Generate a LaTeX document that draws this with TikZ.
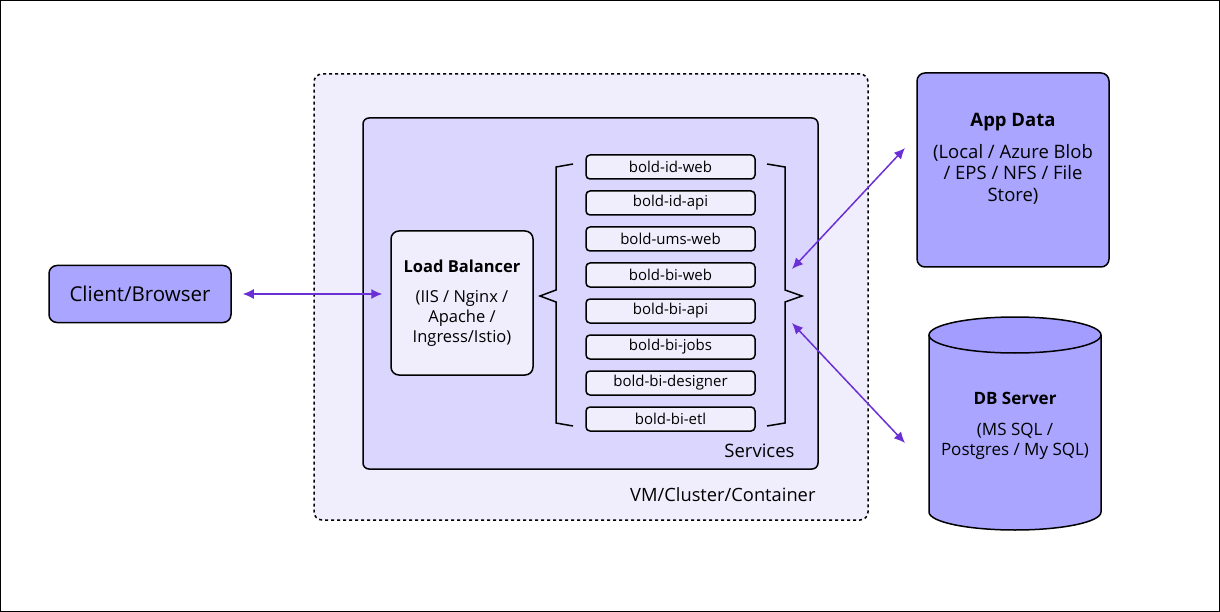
\documentclass[tikz,border=0pt]{standalone}
\usepackage{fontspec}
\setmainfont{Open Sans}
\usetikzlibrary{positioning,arrows.meta}

\definecolor{boxfill}{HTML}{AAA5FF}
\definecolor{vmfill}{HTML}{F0EEFC}
\definecolor{svcfill}{HTML}{DAD6FD}
\definecolor{dbtop}{HTML}{A39DFF}
\definecolor{linkcol}{HTML}{6B2FD6}

\tikzset{
	bigbox/.style={draw, line width=1.5pt, rounded corners=8pt, fill=boxfill, align=center},
	svcbox/.style={draw, line width=1.5pt, rounded corners=4pt, fill=vmfill, minimum width=169pt, minimum height=24pt, inner sep=0pt, font=\fontsize{15}{17}\selectfont},
	link/.style={{Latex[length=11pt,width=10pt]}-{Latex[length=11pt,width=10pt]}, line width=1.5pt, draw=linkcol},
	brace/.style={line width=1.5pt, line join=miter}
}

\begin{document}
\begin{tikzpicture}[x=1pt, y=-1pt]
	\useasboundingbox (0,0) rectangle (1220,612);
	\draw[line width=1pt] (0.5,0.5) rectangle (1219.5,611.5);

	\node[draw, dash pattern=on 3pt off 3pt, line width=1.5pt, rounded corners=8pt, fill=vmfill, minimum width=554pt, minimum height=446pt] (vm) at (591,297) {};
	\node[draw, line width=1.5pt, rounded corners=6pt, fill=svcfill, minimum width=455pt, minimum height=351pt] (svc) at (590.5,293.5) {};

	\node[anchor=east, font=\fontsize{18.3}{20}\selectfont] (vmlabel) at (819,495) {VM/Cluster/Container};
	\node[anchor=east, font=\fontsize{18.5}{20}\selectfont] (svclabel) at (798,451) {Services};

	\node[bigbox, minimum width=182pt, minimum height=57pt, font=\fontsize{20.5}{22}\selectfont] (client) at (140,294) {Client/Browser};

	\node[bigbox, fill=vmfill, minimum width=142pt, minimum height=144pt, font=\fontsize{16.5}{20}\selectfont] (lb) at (462,303)
		{\textbf{Load Balancer}\\[10pt](IIS / Nginx /\\Apache /\\Ingress/Istio)};

	\foreach \name [count=\i from 0] in {bold-id-web, bold-id-api, bold-ums-web, bold-bi-web, bold-bi-api, bold-bi-jobs, bold-bi-designer, bold-bi-etl}
		\node[svcbox] (s\i) at (670.5,167+36*\i) {\name};

	% braces round the services
	\draw[brace] (573,164) -- (556,167) -- (556,290) -- (540,296) -- (556,302) -- (556,423) -- (573,426);
	\draw[brace] (767,164) -- (785,167) -- (785,290) -- (802,296) -- (785,302) -- (785,423) -- (767,426);

	\node[bigbox, minimum width=192pt, minimum height=194pt] (app) at (1013,170) {};
	\node[align=center, font=\fontsize{18.5}{21.5}\selectfont] (apptext) at (1013,159)
		{\textbf{App Data}\\[10pt](Local / Azure Blob\\/ EPS / NFS / File\\Store)};

	% db cylinder
	\fill[boxfill] (929,335) -- (929,512) arc[start angle=180, end angle=360, x radius=86pt, y radius=18pt] -- (1101,335) -- cycle;
	\draw[line width=1.5pt] (929,335) -- (929,512) arc[start angle=180, end angle=360, x radius=86pt, y radius=18pt] -- (1101,335);
	\draw[line width=1.5pt, fill=dbtop] (1015,335) ellipse[x radius=86pt, y radius=18pt];
	\node[align=center, minimum width=172pt, minimum height=213pt, font=\fontsize{17}{20}\selectfont] (db) at (1015,426)
		{\textbf{DB Server}\\[11pt](MS SQL /\\Postgres / My SQL)};

	\coordinate (rin) at (792,269);
	\coordinate (rout) at (792,323);
	\coordinate (appport) at (905,148);
	\coordinate (dbport) at (905,443);

	\draw[link, shorten <=11pt, shorten >=8pt] (client.east) -- (client.east -| lb.west);
	\draw[link] (appport) -- (rin);
	\draw[link] (dbport) -- (rout);
\end{tikzpicture}
\end{document}
